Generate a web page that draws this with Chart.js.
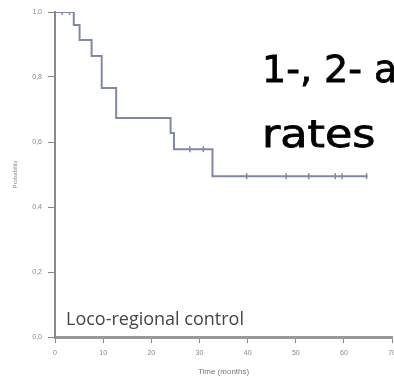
<!DOCTYPE html>
<html>
<head>
<meta charset="utf-8">
<script src="https://cdn.jsdelivr.net/npm/chart.js@4/dist/chart.umd.min.js"></script>
<style>
html,body{margin:0;padding:0;background:#fff;overflow:hidden}
#wrap{width:402px;height:380px;position:relative}
</style>
</head>
<body>
<div id="wrap"><canvas id="km" width="402" height="380"></canvas></div>
<script>

// Kaplan-Meier estimate, loco-regional control
let times=[0,3.9,5.1,7.6,9.7,12.7,24.0,24.7,32.7,64.9]
let surv=[1.0,0.96,0.914,0.865,0.766,0.674,0.628,0.578,0.495,0.495]

// censored patients
let censorTimes=[1.5,3.0,28.0,30.8,39.8,48.0,52.7,58.2,59.6,64.7]
let censorSurv=[1.0,1.0,0.578,0.578,0.495,0.495,0.495,0.495,0.495,0.495]

let xTicks=[0,10,20,30,40,50,60,70]
let yTicks=[0,0.2,0.4,0.6,0.8,1.0]

let lineColor="#8187a8"

// slide text drawn over the plot
let overlay={
id:"overlay",
afterDraw(chart){
let ctx=chart.ctx
ctx.save()
ctx.fillStyle="#454545"
ctx.font="18px 'Open Sans'"
ctx.textBaseline="alphabetic"
ctx.fillText("Loco-regional control",66,325)

ctx.fillStyle="#000"
ctx.strokeStyle="#000"
ctx.lineWidth=0.8
ctx.font="38px 'DejaVu Sans'"
ctx.setTransform(1.0,0,0,1,262,0)
ctx.fillText("1-, 2- and 3-year",0,82)
ctx.strokeText("1-, 2- and 3-year",0,82)
ctx.setTransform(1.17,0,0,1,262,0)
ctx.fillText("rates",0,147)
ctx.strokeText("rates",0,147)
ctx.restore()
}
}

let curve=times.map((t,i)=>({x:t,y:surv[i]}))
let censors=censorTimes.map((t,i)=>({x:t,y:censorSurv[i]}))

new Chart(document.getElementById("km"),{
type:"line",
data:{
datasets:[{
data:curve,
stepped:true,
borderColor:lineColor,
borderWidth:2,
pointRadius:0,
fill:false
},{
type:"scatter",
data:censors,
pointStyle:"line",
rotation:90,
pointRadius:3,
borderColor:lineColor,
borderWidth:1.5
}]
},
options:{
responsive:false,
animation:false,
layout:{padding:{left:0,top:12,right:4,bottom:0}},
plugins:{legend:{display:false},tooltip:{enabled:false}},
scales:{
x:{
type:"linear",
min:0,max:70,
afterBuildTicks:s=>{s.ticks=xTicks.map(v=>({value:v}))},
afterFit:s=>{s.height=43},
border:{color:"#999",width:3},
grid:{drawOnChartArea:false,tickLength:6,color:"#888"},
ticks:{color:"#888",font:{size:7},padding:6},
title:{display:true,text:"Time (months)",color:"#777",font:{size:8},padding:{top:4,bottom:3}}
},
y:{
min:0,max:1,
afterBuildTicks:s=>{s.ticks=yTicks.map(v=>({value:v}))},
afterFit:s=>{s.width=55},
border:{color:"#888",width:2},
grid:{drawOnChartArea:false,tickLength:7,color:"#888"},
ticks:{
color:"#888",font:{size:7},padding:6,
callback:v=>v.toFixed(1).replace(".",",")
},
title:{display:true,text:"Probability",color:"#888",font:{size:6},padding:{top:12,bottom:0}}
}
}
},
plugins:[overlay]
})

</script>
</body>
</html>
